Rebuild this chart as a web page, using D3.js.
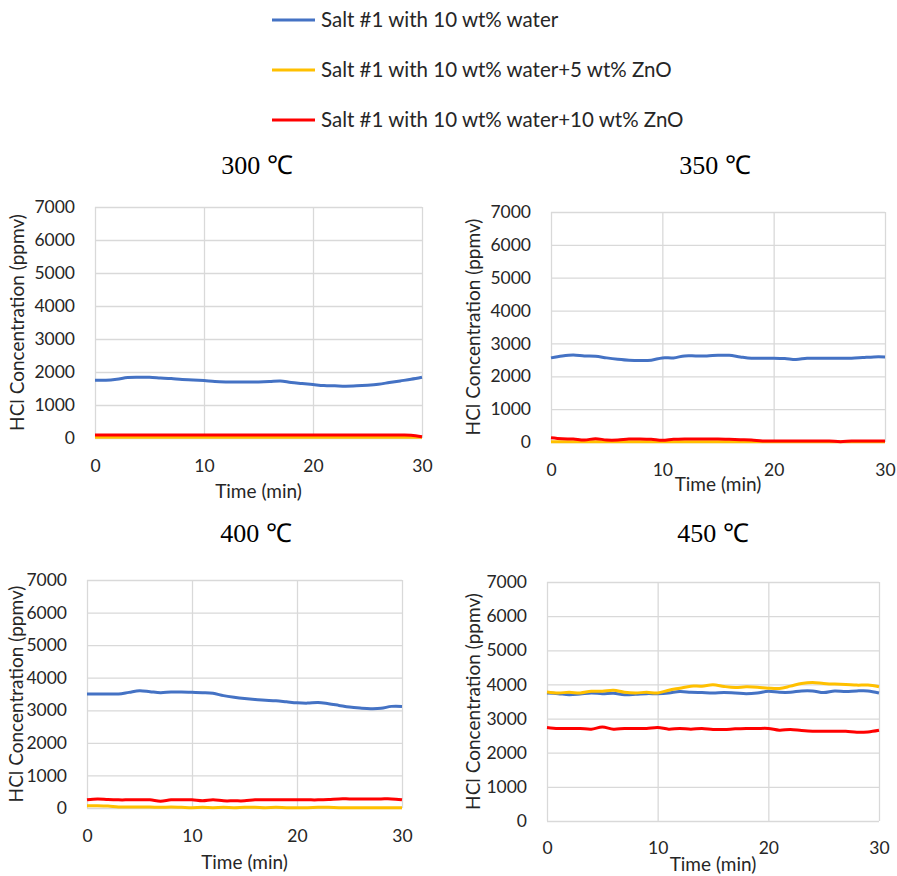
<!DOCTYPE html>
<html>
<head>
<meta charset="utf-8">
<script src="https://cdn.jsdelivr.net/npm/d3@7"></script>
<style>
  body { margin: 0; background: #fff; }
  svg { display: block; }
  text { font-family: Lato, "Liberation Sans", sans-serif; fill: #262626; }
  .title { font-family: "Liberation Serif", "Times New Roman", serif; fill: #000; }
</style>
</head>
<body>
<svg id="chart" width="897" height="876"></svg>
<script>
// time axis (min)
var time = d3.range(0, 31);

var seriesNames = ['Salt #1 with 10 wt% water',
  'Salt #1 with 10 wt% water+5 wt% ZnO',
  'Salt #1 with 10 wt% water+10 wt% ZnO'];
var colors = ['#4472C4', '#FFC000', '#FF0000'];

var titles = ['300 \u2103', '350 \u2103', '400 \u2103', '450 \u2103'];
var xTicks = [0, 10, 20, 30];
var yTicks = [0, 1000, 2000, 3000, 4000, 5000, 6000, 7000];

// 300 C
var water300 = [1750,1750,1780,1830,1840,1840,1820,1800,1770,1760,1740,1710,1700,1700,1700,1700,1710,1730,1680,1650,1620,1590,1580,1570,1580,1600,1630,1680,1730,1780,1840];
var zno5_300 = [20,20,20,20,20,20,20,20,20,20,20,20,20,20,20,20,20,20,20,20,20,20,20,20,20,20,20,20,20,20,20];
var zno10_300 = [90,90,90,90,90,90,90,90,90,90,90,90,90,90,90,90,90,90,90,90,90,90,90,90,90,90,90,90,90,85,40];

// 350 C
var water350 = [2560,2620,2650,2620,2610,2560,2520,2490,2480,2490,2560,2560,2620,2620,2620,2640,2640,2590,2550,2550,2550,2540,2510,2550,2550,2550,2550,2550,2570,2590,2590];
var zno5_350 = [10,10,10,10,10,10,10,10,10,10,10,10,10,10,10,10,10,10,10,10,10,10,10,10,10,10,10,10,10,10,10];
var zno10_350 = [130,100,90,60,100,60,60,90,90,80,50,80,90,90,90,90,80,70,60,30,30,30,30,30,30,30,10,30,30,30,30];

// 400 C
var water400 = [3500,3500,3500,3500,3550,3600,3570,3540,3560,3560,3550,3540,3520,3450,3400,3360,3330,3310,3290,3260,3230,3220,3240,3200,3150,3100,3070,3050,3060,3120,3120];
var zno5_400 = [70,70,60,30,30,30,30,20,30,20,10,20,10,20,10,20,20,10,20,10,10,10,20,20,10,10,10,10,10,10,10];
var zno10_400 = [250,280,260,250,250,250,250,210,250,250,250,220,250,220,220,220,250,250,250,250,250,250,250,260,280,280,280,280,280,280,250];

// 450 C
var water450 = [3750,3730,3700,3720,3750,3730,3740,3700,3710,3730,3730,3750,3790,3770,3760,3750,3760,3750,3730,3750,3800,3770,3770,3810,3810,3760,3810,3790,3810,3810,3750];
var zno5_450 = [3780,3750,3770,3750,3800,3800,3830,3770,3750,3770,3750,3830,3890,3950,3950,3990,3940,3910,3930,3920,3890,3880,3950,4030,4060,4030,4010,4000,3980,3980,3930];
var zno10_450 = [2740,2710,2710,2710,2690,2750,2690,2710,2710,2710,2740,2690,2710,2690,2710,2680,2680,2700,2710,2710,2710,2660,2680,2650,2630,2630,2630,2630,2600,2610,2660];

var panelData = [
  [water300, zno5_300, zno10_300],
  [water350, zno5_350, zno10_350],
  [water400, zno5_400, zno10_400],
  [water450, zno5_450, zno10_450]
];

// panel geometry
var layout = [
  {left: 95, right: 422, top: 207, bottom: 438, tx: 257, ty: 174, xlab: 34, tlab: 60, ytx: 24},
  {left: 551, right: 885, top: 212, bottom: 442, tx: 715, ty: 174, xlab: 34, tlab: 49, ytx: 480},
  {left: 87, right: 402, top: 580, bottom: 808, tx: 256, ty: 542, xlab: 34, tlab: 61, ytx: 23},
  {left: 547, right: 879, top: 582, bottom: 821, tx: 713, ty: 542, xlab: 33, tlab: 50, ytx: 480}
];

var svg = d3.select('#chart');

// legend
var legend = svg.append('g');
seriesNames.forEach(function (name, i) {
  var row = legend.append('g').attr('transform', 'translate(0,' + (20 + i * 50) + ')');
  row.append('line')
      .attr('x1', 272).attr('x2', 315)
      .attr('stroke', colors[i]).attr('stroke-width', 3);
  row.append('text')
      .attr('x', 321).attr('y', 7)
      .style('font-size', '20.5px')
      .text(name);
});

layout.forEach(function (p, k) {
  var x = d3.scaleLinear().domain([0, 30]).range([p.left, p.right]);
  var y = d3.scaleLinear().domain([0, 7000]).range([p.bottom, p.top]);
  var g = svg.append('g');

  var yAxis = g.append('g')
      .attr('transform', 'translate(' + p.left + ',0)')
      .call(d3.axisLeft(y).tickValues(yTicks).tickFormat(d3.format('d'))
        .tickSize(-(p.right - p.left)).tickPadding(20));
  var xAxis = g.append('g')
      .attr('transform', 'translate(0,' + p.bottom + ')')
      .call(d3.axisBottom(x).tickValues(xTicks).tickSize(-(p.bottom - p.top)));

  [yAxis, xAxis].forEach(function (ax) {
    ax.select('.domain').remove();
    ax.selectAll('line').attr('stroke', '#d9d9d9').attr('stroke-width', 1.3);
    ax.selectAll('text').style('font-size', '17.5px').attr('fill', '#262626');
  });
  xAxis.selectAll('text').attr('y', p.xlab).attr('dy', null);

  g.append('text')
      .attr('class', 'title')
      .attr('x', p.tx).attr('y', p.ty)
      .attr('text-anchor', 'middle')
      .style('font-size', '26px')
      .text(titles[k]);

  g.append('text')
      .attr('x', (p.left + p.right) / 2).attr('y', p.bottom + p.tlab)
      .attr('text-anchor', 'middle')
      .style('font-size', '19px')
      .text('Time (min)');

  g.append('text')
      .attr('transform', 'translate(' + p.ytx + ',' + ((p.top + p.bottom) / 2) + ') rotate(-90)')
      .attr('text-anchor', 'middle')
      .style('font-size', '19px')
      .text('HCl Concentration (ppmv)');

  var line = d3.line()
      .x(function (d, i) { return x(time[i]); })
      .y(function (d) { return y(d); })
      .curve(d3.curveCatmullRom.alpha(0.5));

  panelData[k].forEach(function (vals, i) {
    g.append('path')
        .datum(vals)
        .attr('fill', 'none')
        .attr('stroke', colors[i])
        .attr('stroke-width', 3)
        .attr('d', line);
  });
});
</script>
</body>
</html>
